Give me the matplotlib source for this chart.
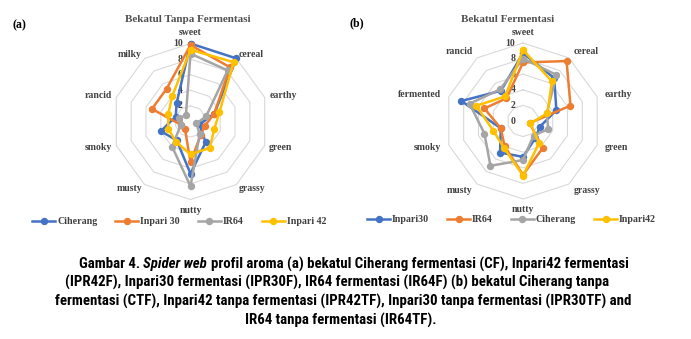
import numpy as np
import matplotlib
matplotlib.use('Agg')
import matplotlib.pyplot as plt
from matplotlib import font_manager

# aroma attributes, clockwise from the top
attrs_a = ['sweet', 'cereal', 'earthy', 'green', 'grassy',
           'nutty', 'musty', 'smoky', 'rancid', 'milky']
attrs_b = ['sweet', 'cereal', 'earthy', 'green', 'grassy',
           'nutty', 'musty', 'smoky', 'fermented', 'rancid']

# (a) bekatul tanpa fermentasi
ciherang_a = [10.0, 10.0, 3.2, 1.2, 3.3, 6.7, 3.0, 4.0, 2.0, 3.0]
inpari30_a = [9.8, 8.6, 3.2, 1.9, 2.2, 5.2, 1.2, 1.3, 5.2, 5.2]
ir64_a = [8.7, 8.1, 2.1, 0.8, 2.0, 8.3, 4.0, 1.3, 1.5, 1.0]
inpari42_a = [9.2, 9.4, 3.9, 3.2, 4.2, 4.2, 3.2, 3.0, 3.0, 4.0]

# (b) bekatul fermentasi
inpari30_b = [8.7, 6.8, 4.5, 2.3, 2.7, 4.6, 5.0, 3.0, 8.3, 4.8]
ir64_b = [7.5, 9.5, 6.4, 0.9, 4.3, 6.9, 4.0, 3.0, 5.2, 3.6]
ciherang_b = [8.0, 7.3, 3.2, 3.4, 2.3, 5.0, 7.1, 5.2, 7.2, 5.0]
inpari42_b = [9.1, 6.3, 3.3, 1.0, 3.5, 7.0, 4.2, 4.0, 6.3, 3.9]

ring_levels = [2, 4, 6, 8, 10]
tick_vals = [10, 8, 6, 4, 2, 0]
tick_labels = ['10', '8', '6', '4', '2', '0']

BLUE, ORANGE, GRAY, GOLD = '#4472C4', '#ED7D31', '#A5A5A5', '#FFC000'
SERIF = 'Liberation Serif'
LABEL_COLOR = '#404040'

W, H = 691, 339
fig = plt.figure(figsize=(W / 100, H / 100), dpi=100)
fig.patch.set_facecolor('white')


def px_rect(cx, cy, R):
    """axes rect (figure fraction) for a radar centred at pixel (cx, cy)"""
    return [(cx - R) / W, (H - cy - R) / H, 2 * R / W, 2 * R / H]


def radar(rect, attrs, series, side_r, tb_r):
    ax = fig.add_axes(rect, projection='polar')
    ax.set_theta_offset(np.pi / 2)
    ax.set_theta_direction(-1)
    ax.set_ylim(0, 10)
    ax.axis('off')

    n = len(attrs)
    theta = np.arange(n) * 2 * np.pi / n
    closed = np.append(theta, theta[0])

    # decagon grid
    for r in ring_levels:
        ax.plot(closed, [r] * (n + 1), color='#D9D9D9', lw=0.8,
                zorder=1, clip_on=False)

    for r, lab in zip(tick_vals, tick_labels):
        ax.annotate(lab, (0, r), xytext=(-5.5, 0), textcoords='offset points',
                    ha='right', va='center', fontsize=7, family=SERIF,
                    fontweight='bold', color=LABEL_COLOR, zorder=2)

    lines = []
    for name, vals, color in series:
        ln, = ax.plot(closed, vals + [vals[0]], color=color, lw=1.8,
                      marker='o', ms=4.3, label=name, zorder=3, clip_on=False)
        lines.append(ln)

    for th, a in zip(theta, attrs):
        s = np.sin(th)
        if abs(s) < 0.1:
            ha, r = 'center', tb_r
        elif s > 0:
            ha, r = 'left', side_r
        else:
            ha, r = 'right', side_r
        ax.text(th, r, a, ha=ha, va='center', fontsize=7, family=SERIF,
                fontweight='bold', color=LABEL_COLOR)
    return lines


lines_a = radar(px_rect(190.5, 121.5, 78), attrs_a,
                [('Ciherang', ciherang_a, BLUE),
                 ('Inpari 30', inpari30_a, ORANGE),
                 ('IR64', ir64_a, GRAY),
                 ('Inpari 42', inpari42_a, GOLD)], 10.6, 11.35)
lines_b = radar(px_rect(523, 121, 78), attrs_b,
                [('Inpari30', inpari30_b, BLUE),
                 ('IR64', ir64_b, ORANGE),
                 ('Ciherang', ciherang_b, GRAY),
                 ('Inpari42', inpari42_b, GOLD)], 11.0, 11.3)

# titles and panel letters
fig.text(187.5 / W, 1 - 20 / H, 'Bekatul Tanpa Fermentasi', ha='center',
         va='center', fontsize=8, family=SERIF, fontweight='bold', color='#505050')
fig.text(507.5 / W, 1 - 20 / H, 'Bekatul Fermentasi', ha='center',
         va='center', fontsize=8, family=SERIF, fontweight='bold', color='#505050')
fig.text(12 / W, 1 - 25 / H, '(a)', ha='left', va='center', fontsize=8.5,
         family=SERIF, fontweight='bold', color='black')
fig.text(349 / W, 1 - 23 / H, '(b)', ha='left', va='center', fontsize=8.5,
         family=SERIF, fontweight='bold', color='black')

legend_kw = dict(loc='center', ncol=4, frameon=False, numpoints=1,
                 prop=dict(family=SERIF, weight='bold', size=7.2),
                 labelcolor=LABEL_COLOR, handlelength=2.3, handletextpad=0.2,
                 columnspacing=1.8, borderpad=0, borderaxespad=0)
fig.legend(handles=lines_a, bbox_to_anchor=(179 / W, 1 - 222 / H), **legend_kw)
fig.legend(handles=lines_b, bbox_to_anchor=(511.5 / W, 1 - 220 / H), **legend_kw)

# caption, in a narrow sans if one is installed
names = {f.name for f in font_manager.fontManager.ttflist}
cap_family = next((f for f in ['Liberation Sans Narrow', 'Roboto Condensed',
                               'Open Sans Condensed', 'Lato'] if f in names),
                  'DejaVu Sans')

caption = [
    (264.0, 353.7, [('Gambar 4.', 'normal'), ('Spider web', 'italic'),
                    ('profil aroma (a) bekatul Ciherang fermentasi (CF), Inpari42 fermentasi', 'normal')]),
    (282.7, 336.7, [('(IPR42F), Inpari30 fermentasi (IPR30F), IR64 fermentasi (IR64F) (b) bekatul Ciherang tanpa', 'normal')]),
    (301.7, 343.3, [('fermentasi (CTF), Inpari42 tanpa fermentasi (IPR42TF), Inpari30 tanpa fermentasi (IPR30TF) and', 'normal')]),
    (320.0, 340.5, [('IR64 tanpa fermentasi (IR64TF).', 'normal')]),
]

renderer = fig.canvas.get_renderer()


def text_width(s, size, style='normal'):
    t = fig.text(0, 0, s, fontsize=size, family=cap_family,
                 fontweight='bold', style=style)
    w = t.get_window_extent(renderer).width
    t.remove()
    return w


# size the caption so the longest line spans ~579 px
cap_size = 10 * 579 / text_width(caption[2][2][0][0], 10)
space = text_width('a a', cap_size) - text_width('aa', cap_size)

for y, cx, pieces in caption:
    widths = [text_width(s, cap_size, st) for s, st in pieces]
    total = sum(widths) + space * (len(pieces) - 1)
    x = cx - total / 2
    for (s, st), w in zip(pieces, widths):
        fig.text(x / W, 1 - y / H, s, ha='left', va='center', fontsize=cap_size,
                 family=cap_family, fontweight='bold', style=st, color='black')
        x += w + space

fig.savefig('out.png', dpi=100, facecolor='white')
